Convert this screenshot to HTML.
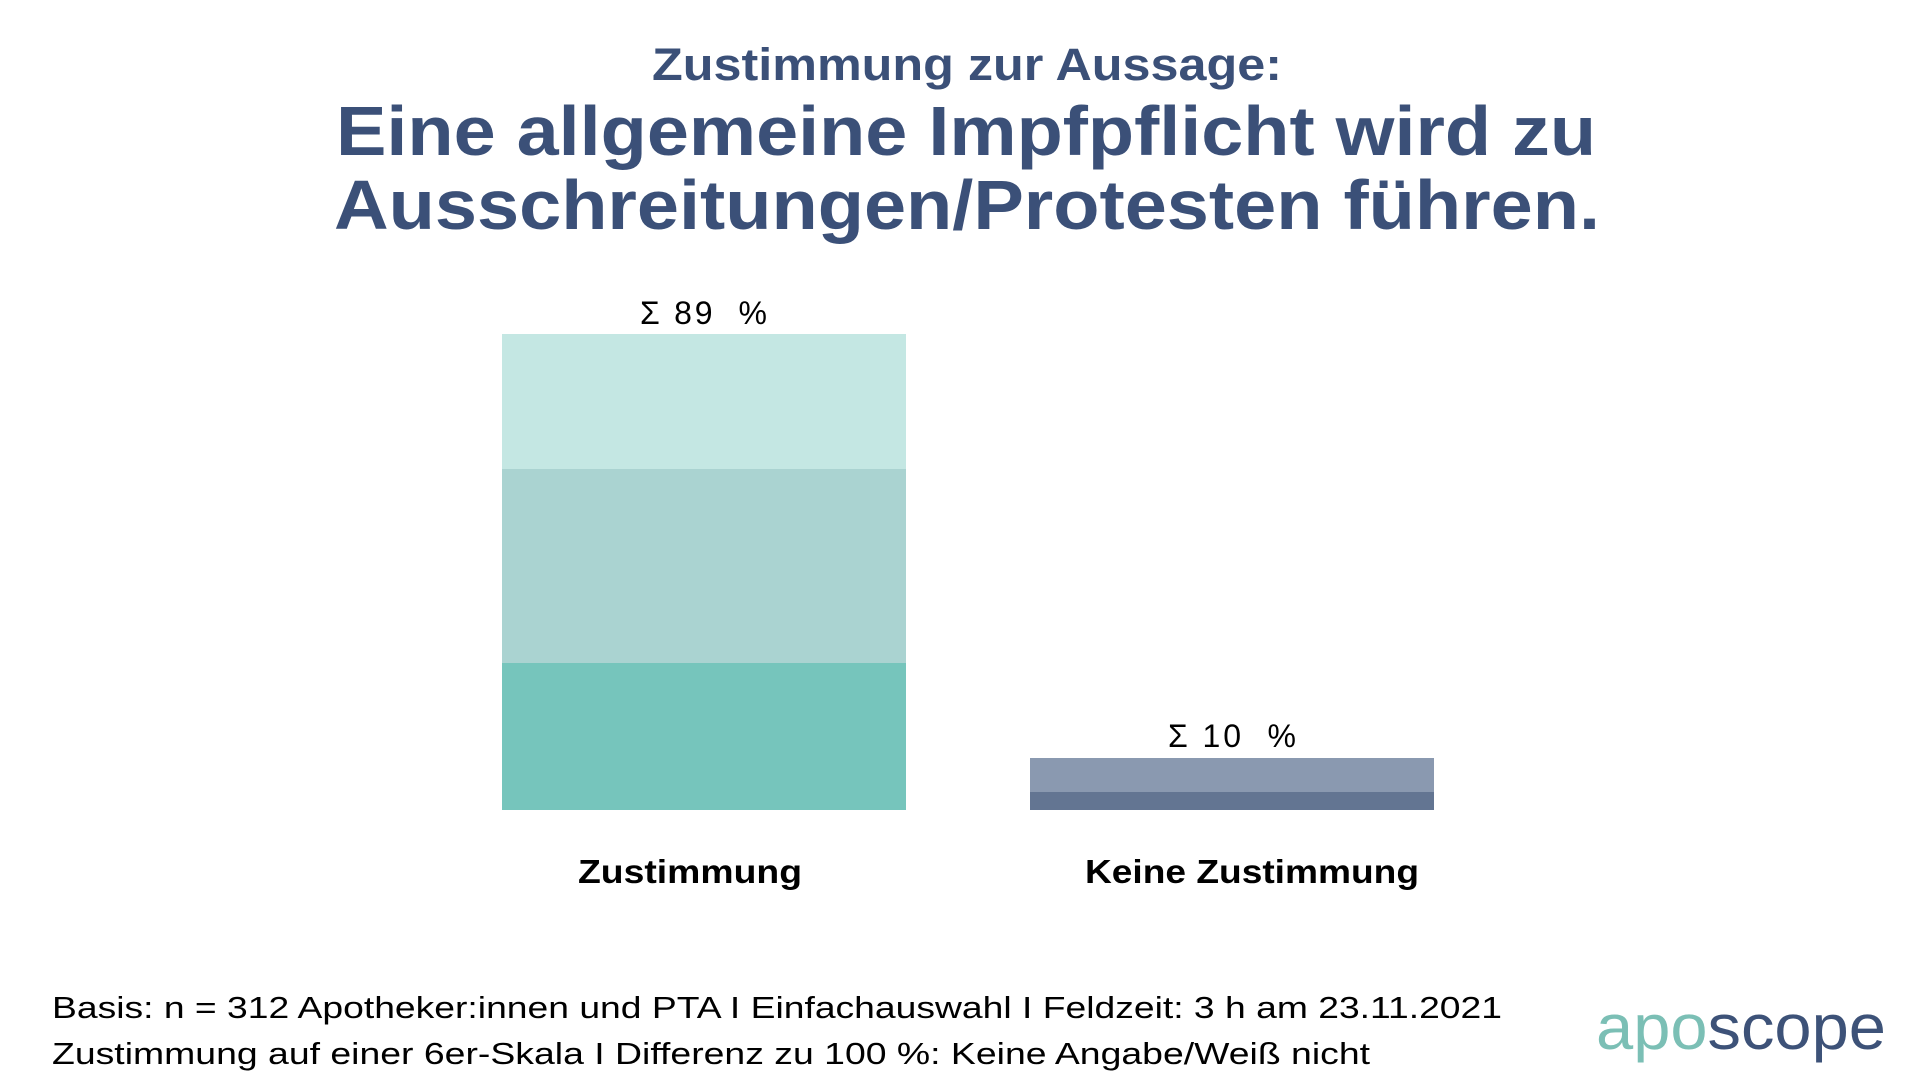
<!DOCTYPE html>
<html><head><meta charset="utf-8"><style>html,body{margin:0;padding:0;background:#fff}svg{display:block}</style></head>
<body>
<svg width="1920" height="1080" viewBox="0 0 1920 1080" xmlns="http://www.w3.org/2000/svg" font-family="'Liberation Sans', sans-serif">
<g fill="#3b5078" font-weight="bold">
<text x="652" y="80" font-size="45" textLength="630" lengthAdjust="spacingAndGlyphs">Zustimmung zur Aussage:</text>
<text x="336" y="155" font-size="70" textLength="1260" lengthAdjust="spacingAndGlyphs">Eine allgemeine Impfpflicht wird zu</text>
<text x="334" y="229" font-size="70" textLength="1266" lengthAdjust="spacingAndGlyphs">Ausschreitungen/Protesten führen.</text>
</g>
<rect x="502" y="334" width="404" height="135" fill="#c4e7e3"/>
<rect x="502" y="469" width="404" height="194" fill="#aad3d1"/>
<rect x="502" y="663" width="404" height="147" fill="#76c5bc"/>
<rect x="1030" y="758" width="404" height="34" fill="#8a99b0"/>
<rect x="1030" y="792" width="404" height="18" fill="#637592"/>
<text x="640" y="324" font-size="32" fill="#000" xml:space="preserve" textLength="127" lengthAdjust="spacing">Σ 89  %</text>
<text x="1168" y="747" font-size="32" fill="#000" xml:space="preserve" textLength="128" lengthAdjust="spacing">Σ 10  %</text>
<text x="578" y="883" font-size="33" font-weight="bold" textLength="224" lengthAdjust="spacingAndGlyphs">Zustimmung</text>
<text x="1085" y="883" font-size="33" font-weight="bold" textLength="334" lengthAdjust="spacingAndGlyphs">Keine Zustimmung</text>
<text x="52" y="1018" font-size="31" textLength="1450" lengthAdjust="spacingAndGlyphs">Basis: n = 312 Apotheker:innen und PTA I Einfachauswahl I Feldzeit: 3 h am 23.11.2021</text>
<text x="52" y="1064" font-size="31" textLength="1318" lengthAdjust="spacingAndGlyphs">Zustimmung auf einer 6er-Skala I Differenz zu 100 %: Keine Angabe/Weiß nicht</text>
<text x="1596" y="1049" font-size="64" textLength="290" lengthAdjust="spacingAndGlyphs"><tspan fill="#7bbfb5">apo</tspan><tspan fill="#3d5278">scope</tspan></text>
</svg>
</body></html>
